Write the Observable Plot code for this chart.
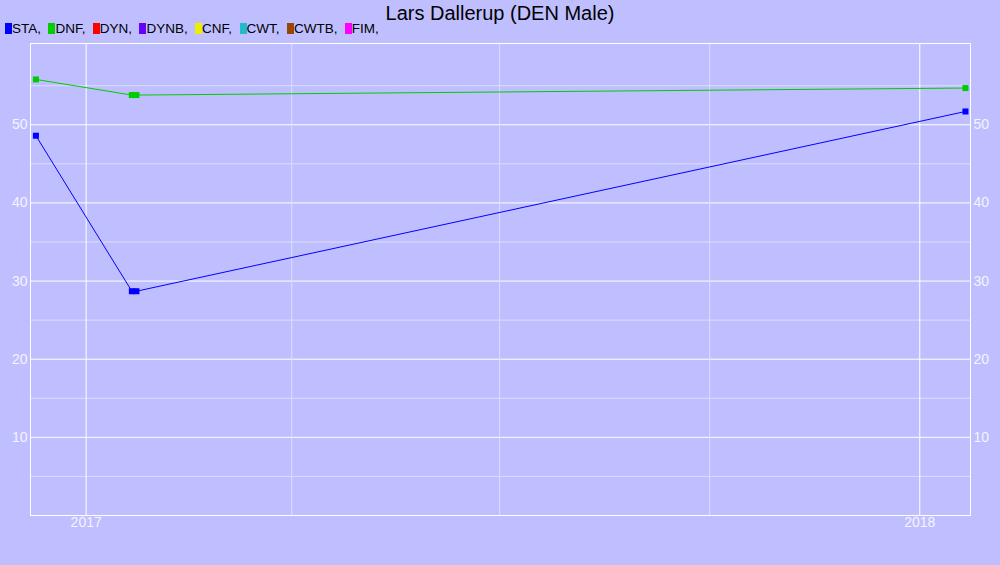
<!DOCTYPE html>
<html><head><meta charset="utf-8">
<script src="https://cdn.jsdelivr.net/npm/d3@7"></script>
<script src="https://cdn.jsdelivr.net/npm/@observablehq/plot@0.6"></script>
<style>
html,body{margin:0;padding:0;background:#bfbfff;}
#wrap{position:relative;width:1000px;height:565px;font-family:"Liberation Sans",Arial,sans-serif;overflow:hidden;}
#chart{position:absolute;left:0;top:0;}
#title{position:absolute;left:0;top:1px;width:1000px;text-align:center;font-size:20px;line-height:24px;color:#000;}
#legend{position:absolute;left:5px;top:22px;display:flex;gap:7.4px;font-size:13.5px;line-height:11px;color:#000;white-space:pre;}
#legend .item{display:flex;align-items:flex-end;}
#legend .sw{display:inline-block;width:7px;height:11px;margin-right:0px;}
#legend .tx{display:inline-block;line-height:13px;height:12px;}
</style>
</head><body>
<div id="wrap"><div id="chart"></div><div id="title"></div><div id="legend"></div></div>
<script>
const titleText = "Lars Dallerup (DEN Male)";
const series = ["STA","DNF","DYN","DYNB","CNF","CWT","CWTB","FIM"];
const seriesColors = ["#0000ff","#00cc00","#ff0000","#6600ff","#eeee00","#22bbcc","#994400","#ff00ff"];
const dates = ["2016-12-10","2017-01-21","2017-01-23","2018-01-21"];
const staValues = [48.6, 28.7, 28.7, 51.7];
const dnfValues = [55.8, 53.8, 53.8, 54.7];
const yTicks = [10, 20, 30, 40, 50];
const yMinorTicks = [5, 15, 25, 35, 45, 55];
const xTicks = ["2017-01-01","2018-01-01"];
const xMinorTicks = ["2017-04-01","2017-07-01","2017-10-01"];

document.getElementById("title").textContent = titleText;
const leg = document.getElementById("legend");
series.forEach((s, i) => {
  const it = document.createElement("span"); it.className = "item";
  const sw = document.createElement("span"); sw.className = "sw"; sw.style.background = seriesColors[i];
  const tx = document.createElement("span"); tx.className = "tx"; tx.textContent = s + ",";
  it.appendChild(sw); it.appendChild(tx); leg.appendChild(it);
});

const parse = d => new Date(d + "T00:00:00Z");
const rows = [];
dates.forEach((d, i) => rows.push({series: "STA", date: parse(d), value: staValues[i]}));
dates.forEach((d, i) => rows.push({series: "DNF", date: parse(d), value: dnfValues[i]}));
const colorOf = s => seriesColors[series.indexOf(s)];

const chart = Plot.plot({
  width: 1000, height: 565,
  marginLeft: 30, marginRight: 30, marginTop: 43, marginBottom: 50,
  style: {background: "transparent", fontFamily: "'Liberation Sans', Arial, sans-serif", fontSize: "14px"},
  x: {type: "utc", domain: [new Date("2016-12-07T15:00:00Z"), new Date("2018-01-23T05:00:00Z")]},
  y: {domain: [0, 60.4]},
  marks: [
    Plot.gridY(yMinorTicks, {stroke: "#dcdcff", strokeOpacity: 1}),
    Plot.gridY(yTicks, {stroke: "#ffffff", strokeOpacity: 1}),
    Plot.gridX(xMinorTicks.map(parse), {stroke: "#dcdcff", strokeOpacity: 1}),
    Plot.gridX(xTicks.map(parse), {stroke: "#ffffff", strokeOpacity: 1}),
    Plot.frame({stroke: "#ffffff"}),
    Plot.axisY(yTicks, {anchor: "left", tickSize: 0, tickPadding: 3, fill: "#f4f4ff", label: null, fontSize: 14}),
    Plot.axisY(yTicks, {anchor: "right", tickSize: 0, tickPadding: 3, fill: "#f4f4ff", label: null, fontSize: 14}),
    Plot.axisX(xTicks.map(parse), {anchor: "bottom", tickSize: 0, tickPadding: 2, fill: "#f4f4ff", label: null, fontSize: 14, tickFormat: d3.utcFormat("%Y")}),
    Plot.line(rows.filter(r => r.series === "DNF"), {x: "date", y: "value", stroke: colorOf("DNF"), strokeWidth: 1}),
    Plot.line(rows.filter(r => r.series === "STA"), {x: "date", y: "value", stroke: colorOf("STA"), strokeWidth: 1}),
    Plot.dot(rows, {x: "date", y: "value", fill: d => colorOf(d.series), symbol: "square", r: 3.4})
  ]
});
document.getElementById("chart").appendChild(chart);
</script>
</body></html>
